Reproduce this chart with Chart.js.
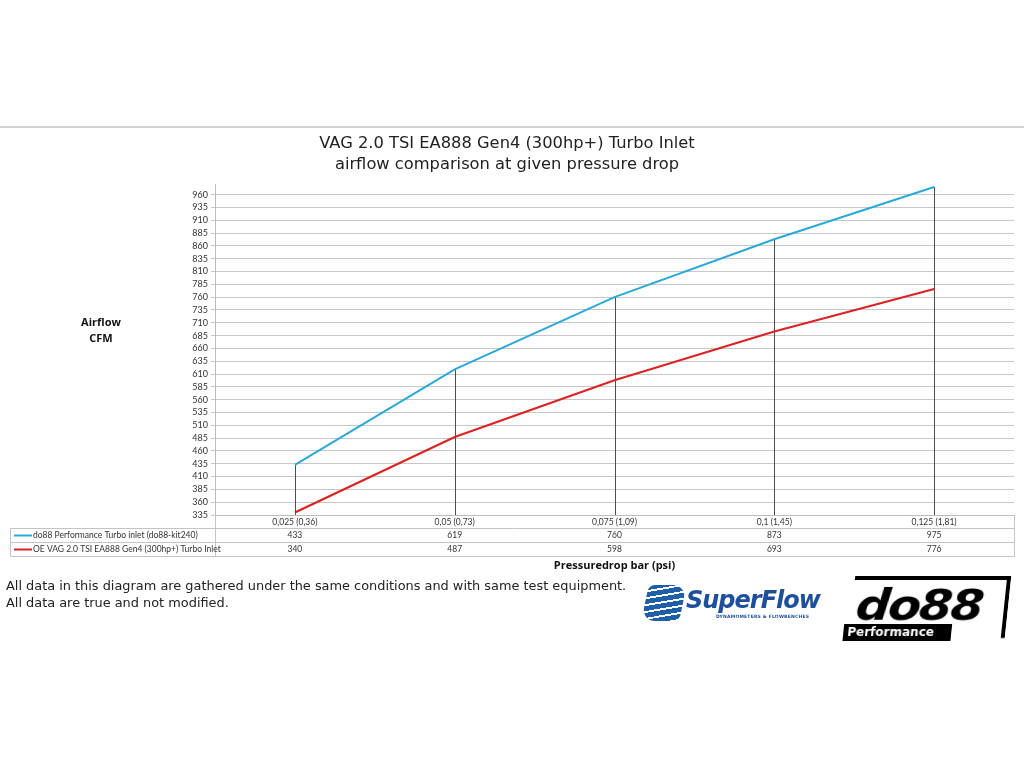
<!DOCTYPE html>
<html>
<head>
<meta charset="utf-8">
<script src="https://cdn.jsdelivr.net/npm/chart.js@4.4.1/dist/chart.umd.min.js"></script>
<style>
body { margin: 0; background: #fff; width: 1024px; height: 768px; position: relative; overflow: hidden; font-family: "DejaVu Sans", Verdana, sans-serif; }
#topline { position: absolute; left: 0; top: 126px; width: 1024px; height: 2px; background: #d4d4d4; }
#wrap { position: absolute; left: 0; top: 128px; width: 1024px; height: 450px; }
#note { position: absolute; left: 6px; top: 577px; font-size: 12.9px; line-height: 17px; color: #222; }
/* logos, rough css versions */
#sf-icon { position: absolute; left: 645px; top: 585px; width: 38px; height: 36px; border-radius: 6px 14px 6px 14px;
  background: repeating-linear-gradient(170deg, #1f5fa8 0 5px, #fff 5px 7px); transform: skewX(-12deg); }
#sf-text { position: absolute; left: 686px; top: 586px; font: italic bold 24px "DejaVu Sans", sans-serif; color: #1d4f9c; letter-spacing: -1px; }
#sf-sub { position: absolute; left: 716px; top: 614px; font: bold 4.5px "DejaVu Sans", sans-serif; color: #1d4f9c; letter-spacing: 0.2px; }
#do88 { position: absolute; left: 852px; top: 576px; width: 152px; height: 58px; border-top: 4px solid #000; border-right: 4px solid #000; transform: skewX(-6deg); }
#do88 .big { position: absolute; left: 4px; top: -4px; font: italic 900 48px "DejaVu Sans", sans-serif; color: #000; letter-spacing: -2px; transform: scaleY(0.9); }
#do88 .bar { position: absolute; left: -6px; bottom: -2px; width: 104px; height: 16px; background: #000; color: #fff; font: bold 12px "DejaVu Sans", sans-serif; line-height: 16px; padding-left: 4px; }
</style>
</head>
<body>
<div id="topline"></div>
<div id="wrap"><canvas id="flowChart" width="1024" height="450"></canvas></div>
<div id="note">All data in this diagram are gathered under the same conditions and with same test equipment.<br>All data are true and not modified.</div>
<div id="sf-icon"></div>
<div id="sf-text">SuperFlow</div>
<div id="sf-sub">DYNAMOMETERS &amp; FLOWBENCHES</div>
<div id="do88"><div class="big">do88</div><div class="bar">Performance</div></div>

<script>
// ---- data ----
const pressureLabels = ['0,025 (0,36)', '0,05 (0,73)', '0,075 (1,09)', '0,1 (1,45)', '0,125 (1,81)'];
const do88Flow = [433, 619, 760, 873, 975];
const oeFlow = [340, 487, 598, 693, 776];
const seriesNames = ['do88 Performance Turbo inlet (do88-kit240)', 'OE VAG 2.0 TSI EA888 Gen4 (300hp+) Turbo Inlet'];
const seriesColors = ['#2aa8d8', '#dc2222'];
const yTickValues = [335, 360, 385, 410, 435, 460, 485, 510, 535, 560, 585, 610, 635, 660,
    685, 710, 735, 760, 785, 810, 835, 860, 885, 910, 935, 960];
const yMin = 335;
const yMax = 980;

const tableFont = 'Lato, "Open Sans", sans-serif';

// vertical high-low lines from the top point down to the axis
const dropLines = {
    id: 'dropLines',
    beforeDatasetsDraw(chart) {
        const { ctx, chartArea, scales: { x, y } } = chart;
        ctx.save();
        ctx.strokeStyle = '#4d4d4d';
        ctx.lineWidth = 1;
        pressureLabels.forEach((_, i) => {
            const px = Math.round(x.getPixelForValue(i)) + 0.5;
            const top = Math.min(...chart.data.datasets.map(d => y.getPixelForValue(d.data[i])));
            ctx.beginPath();
            ctx.moveTo(px, top);
            ctx.lineTo(px, chartArea.bottom);
            ctx.stroke();
        });
        ctx.restore();
    }
};

// excel style data table under the axis + the y title
const dataTable = {
    id: 'dataTable',
    afterDraw(chart) {
        const { ctx, chartArea: a, scales: { x } } = chart;
        const rowH = 14;
        const r1 = Math.round(a.bottom) + 13.5;
        const left = 10.5;
        const right = Math.round(a.right) + 0.5;
        const axisX = Math.round(a.left) + 0.5;

        ctx.save();
        ctx.strokeStyle = '#c4c4c4';
        ctx.lineWidth = 1;
        ctx.beginPath();
        for (let r = 0; r < 3; r++) {
            ctx.moveTo(left, r1 + r * rowH);
            ctx.lineTo(right, r1 + r * rowH);
        }
        ctx.moveTo(axisX, a.bottom);
        ctx.lineTo(axisX, r1 + 2 * rowH);
        ctx.moveTo(right, a.bottom);
        ctx.lineTo(right, r1 + 2 * rowH);
        ctx.moveTo(left, r1);
        ctx.lineTo(left, r1 + 2 * rowH);
        ctx.stroke();

        ctx.font = '8.5px ' + tableFont;
        ctx.textBaseline = 'middle';
        chart.data.datasets.forEach((ds, s) => {
            const cy = r1 + s * rowH + rowH / 2;
            ctx.strokeStyle = seriesColors[s];
            ctx.lineWidth = 2;
            ctx.beginPath();
            ctx.moveTo(14, cy);
            ctx.lineTo(32, cy);
            ctx.stroke();
            ctx.fillStyle = '#333';
            ctx.textAlign = 'left';
            ctx.fillText(seriesNames[s], 33, cy);
            ctx.textAlign = 'center';
            ds.data.forEach((v, i) => ctx.fillText(String(v), x.getPixelForValue(i), cy));
        });

        // y axis title sits level, left of the ticks
        ctx.fillStyle = '#111';
        ctx.textAlign = 'center';
        ctx.font = 'bold 11px "Open Sans", sans-serif';
        ctx.fillText('Airflow', 101, 195);
        ctx.fillText('CFM', 101, 211);
        ctx.restore();
    }
};

new Chart(document.getElementById('flowChart'), {
    type: 'line',
    data: {
        labels: pressureLabels,
        datasets: [
            { label: seriesNames[0], data: do88Flow, borderColor: seriesColors[0], borderWidth: 2, pointRadius: 0, tension: 0 },
            { label: seriesNames[1], data: oeFlow, borderColor: seriesColors[1], borderWidth: 2.2, pointRadius: 0, tension: 0 }
        ]
    },
    options: {
        responsive: false,
        animation: false,
        layout: { padding: { left: 0, right: 10, top: 0, bottom: 0 } },
        plugins: {
            legend: { display: false },
            tooltip: { enabled: false },
            title: {
                display: true,
                text: ['VAG 2.0 TSI EA888 Gen4 (300hp+) Turbo Inlet', 'airflow comparison at given pressure drop'],
                color: '#222',
                font: { family: '"DejaVu Sans", Verdana, sans-serif', size: 16.3, weight: 'normal', lineHeight: 1.3 },
                padding: { top: 5, bottom: 9 }
            }
        },
        scales: {
            x: {
                offset: true,
                grid: { display: false, drawTicks: false },
                border: { display: true, color: '#bdbdbd' },
                ticks: { color: '#333', font: { family: tableFont, size: 8.5 }, padding: 2, maxRotation: 0, autoSkip: false },
                title: {
                    display: true,
                    text: 'Pressuredrop bar (psi)',
                    color: '#111',
                    font: { family: '"Open Sans", sans-serif', size: 11, weight: 'bold' },
                    padding: { top: 0, bottom: 6 }
                },
                afterFit(scale) { scale.height = 63; }
            },
            y: {
                min: yMin,
                max: yMax,
                afterBuildTicks(scale) { scale.ticks = yTickValues.map(v => ({ value: v })); },
                grid: { color: '#c8c8c8', tickLength: 4 },
                border: { display: true, color: '#bdbdbd' },
                ticks: { color: '#333', font: { family: tableFont, size: 9 }, padding: 3, autoSkip: false },
                afterFit(scale) { scale.width = 215; }
            }
        }
    },
    plugins: [dropLines, dataTable]
});
</script>
</body>
</html>
